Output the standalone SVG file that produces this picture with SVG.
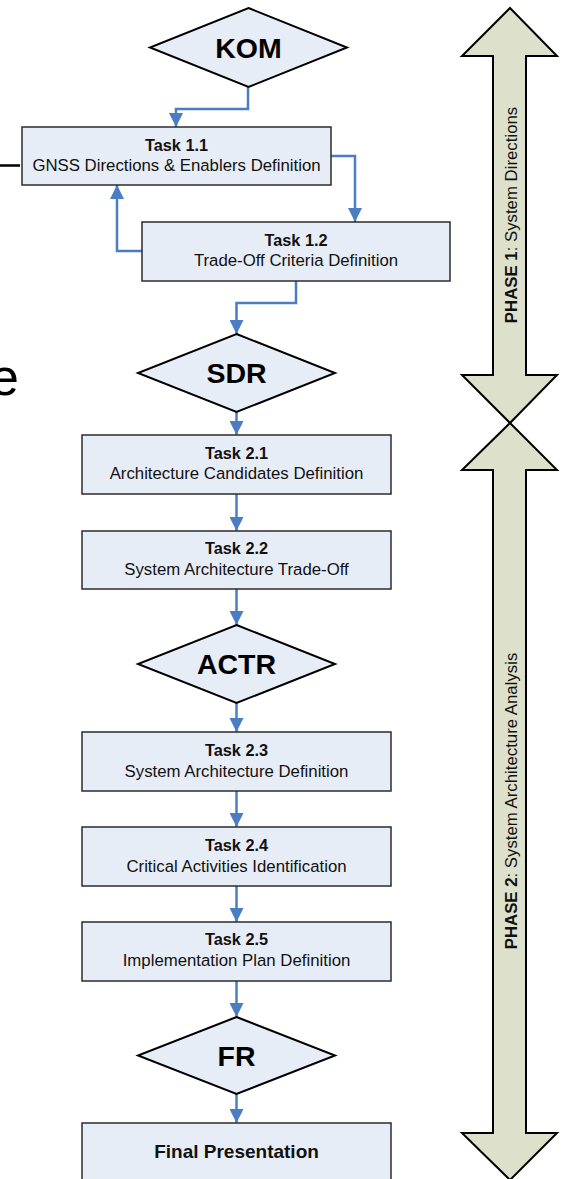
<svg xmlns="http://www.w3.org/2000/svg" width="563" height="1179" viewBox="0 0 563 1179">
<style>
.box{fill:#E7EDF7;stroke:#2b2b2b;stroke-width:1.5}
.dia{fill:#E7EDF7;stroke:#000;stroke-width:2}
.phase{fill:#DDE0CB;stroke:#000;stroke-width:2;stroke-linejoin:miter}
.con{fill:none;stroke:#4A7DC4;stroke-width:2.5;marker-end:url(#ah)}
.t{font-family:"Liberation Sans",Arial,sans-serif;font-size:16.8px;fill:#111;text-anchor:middle}
.b{font-weight:bold;font-size:16.3px}
.fp{font-size:19px}
.d{font-family:"Liberation Sans",Arial,sans-serif;font-size:28.5px;font-weight:bold;fill:#000;text-anchor:middle}
.p{font-family:"Liberation Sans",Arial,sans-serif;font-size:16.8px;fill:#111;text-anchor:middle}
</style>
<defs>
<marker id="ah" markerUnits="userSpaceOnUse" markerWidth="14" markerHeight="14" refX="14" refY="7" orient="auto">
<path d="M0,0 L14,7 L0,14 z" fill="#4A7DC4"/>
</marker>
</defs>
<rect width="563" height="1179" fill="#fff"/>
<line x1="0" y1="165.5" x2="20" y2="165.5" stroke="#000" stroke-width="2.5"/>
<text x="-10" y="395" font-family="Liberation Sans, Arial, sans-serif" font-size="52" fill="#000">e</text>
<g id="phase1">
<polygon class="phase" points="510,8 557,56 526,56 526,375 557,375 510,423 462,375 493,375 493,56 462,56"/>
<text class="p" transform="translate(517,215) rotate(-90)"><tspan font-weight="bold">PHASE 1</tspan>: System Directions</text>
</g>
<g id="phase2">
<polygon class="phase" points="510,423 557,470 526,470 526,1133 557,1133 510,1180 462,1133 493,1133 493,470 462,470"/>
<text class="p" transform="translate(517,801) rotate(-90)"><tspan font-weight="bold">PHASE 2</tspan>: System Architecture Analysis</text>
</g>
<g id="connectors">
<path class="con" d="M248,87 V109 H176 V127"/>
<path class="con" d="M331,156 H355 V222"/>
<path class="con" d="M142,251 H117 V185"/>
<path class="con" d="M296,281 V303 H236.5 V334"/>
<path class="con" d="M236.5,412 V435"/>
<path class="con" d="M236.5,494 V531"/>
<path class="con" d="M236.5,589 V625"/>
<path class="con" d="M236.5,703 V732"/>
<path class="con" d="M236.5,791 V827"/>
<path class="con" d="M236.5,886 V922"/>
<path class="con" d="M236.5,981 V1017"/>
<path class="con" d="M236.5,1094 V1123"/>
</g>
<g id="kom">
<polygon class="dia" points="248.5,8 347,47.5 248.5,87 150,47.5"/>
<text class="d" x="248.5" y="57.5">KOM</text>
</g>
<g id="task11">
<rect class="box" x="22" y="127" width="309" height="58"/>
<text class="t b" x="176.5" y="151">Task 1.1</text>
<text class="t" x="176.5" y="171">GNSS Directions &amp; Enablers Definition</text>
</g>
<g id="task12">
<rect class="box" x="142" y="222" width="308" height="59"/>
<text class="t b" x="296" y="246">Task 1.2</text>
<text class="t" x="296" y="266">Trade-Off Criteria Definition</text>
</g>
<g id="sdr">
<polygon class="dia" points="236.5,334 335,373 236.5,412 138,373"/>
<text class="d" x="236.5" y="383">SDR</text>
</g>
<g id="task21">
<rect class="box" x="82" y="435" width="309" height="59"/>
<text class="t b" x="236.5" y="459">Task 2.1</text>
<text class="t" x="236.5" y="479">Architecture Candidates Definition</text>
</g>
<g id="task22">
<rect class="box" x="82" y="531" width="309" height="58"/>
<text class="t b" x="236.5" y="554">Task 2.2</text>
<text class="t" x="236.5" y="575">System Architecture Trade-Off</text>
</g>
<g id="actr">
<polygon class="dia" points="236.5,625 335,664 236.5,703 138,664"/>
<text class="d" x="236.5" y="674">ACTR</text>
</g>
<g id="task23">
<rect class="box" x="82" y="732" width="309" height="59"/>
<text class="t b" x="236.5" y="756">Task 2.3</text>
<text class="t" x="236.5" y="777">System Architecture Definition</text>
</g>
<g id="task24">
<rect class="box" x="82" y="827" width="309" height="59"/>
<text class="t b" x="236.5" y="851">Task 2.4</text>
<text class="t" x="236.5" y="872">Critical Activities Identification</text>
</g>
<g id="task25">
<rect class="box" x="82" y="922" width="309" height="59"/>
<text class="t b" x="236.5" y="945">Task 2.5</text>
<text class="t" x="236.5" y="966">Implementation Plan Definition</text>
</g>
<g id="fr">
<polygon class="dia" points="236.5,1017 335,1055.5 236.5,1094 138,1055.5"/>
<text class="d" x="236.5" y="1066">FR</text>
</g>
<g id="final">
<rect class="box" x="82" y="1123" width="309" height="70"/>
<text class="t b fp" x="236.5" y="1158">Final Presentation</text>
</g>
</svg>
